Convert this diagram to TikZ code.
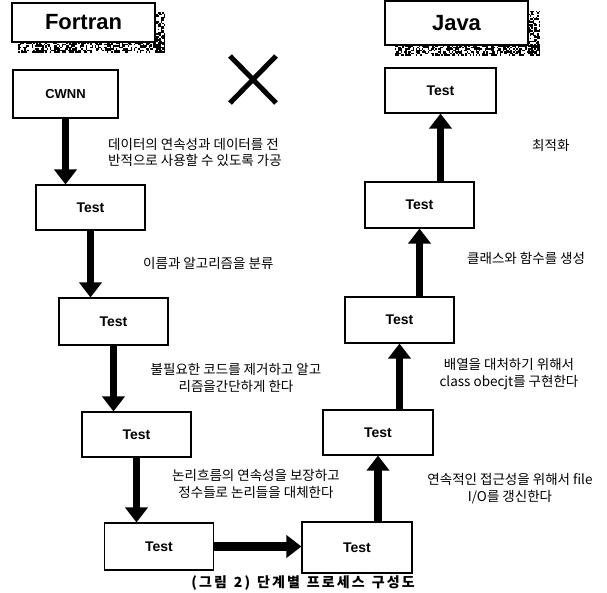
\documentclass[tikz,border=0pt]{standalone}
\usepackage{fontspec}
\setmainfont{Liberation Sans}
\newfontfamily\kr{Noto Sans CJK KR}
\usetikzlibrary{arrows.meta}

% grainy halftone strip: \grain{x0}{x1}{y0}{y1} on a 1.5pt grid
\newcommand\grain[4]{%
  \foreach \gx in {#1,...,#2}{%
    \foreach \gy in {#3,...,#4}{%
      \pgfmathrandominteger{\gr}{0}{99}%
      \ifnum\gr<52 \fill (\gx*1.5,\gy*1.5) rectangle ++(1.5,1.5);\fi
    }%
  }%
}

\begin{document}
\begin{tikzpicture}[x=1pt,y=-1pt,
  box/.style={draw, line width=1.1pt, fill=white, minimum width=109pt,
    minimum height=45pt, inner sep=0pt, font=\bfseries\fontsize{14}{16}\selectfont},
  titlebox/.style={box, minimum width=143pt, font=\bfseries\fontsize{22}{24}\selectfont},
  flow/.style={line width=7.5pt, -{Triangle[width=22pt,length=15pt]}},
  note/.style={font=\kr\fontsize{13.5}{17}\selectfont, align=center, inner sep=0pt},
]
\useasboundingbox (0,0) rectangle (607,592);
\pgfmathsetseed{4217}

% grainy drop shadows behind the two language headers
\grain{103}{109}{8}{34}
\grain{12}{109}{28}{34}
\grain{352}{359}{7}{36}
\grain{263}{359}{30}{36}

% language headers
\node[titlebox, minimum height=39pt] (fortran) at (83.5,22.5) {Fortran};
\node[titlebox, minimum height=44pt] (java) at (456.5,23) {Java};

% crossed-out mark
\draw[line width=5pt] (230,56) coordinate (xa) -- (276,103) coordinate (xb);
\draw[line width=5pt] (276,56) coordinate (xc) -- (230,103) coordinate (xd);

% Fortran side
\node[box, minimum width=105pt, minimum height=48pt, font=\bfseries\fontsize{13}{15}\selectfont] (cwnn) at (65.5,94) {CWNN};
\node[box] (t1) at (90.5,207.5) {Test};
\node[box, minimum height=47pt] (t2) at (113.5,321.5) {Test};
\node[box] (t3) at (136.5,434.5) {Test};
\node[box, minimum height=47pt] (t4) at (159,546.5) {Test};

% Java side
\node[box, minimum width=110pt, minimum height=51pt] (t5) at (357,547.5) {Test};
\node[box, minimum width=110pt] (t6) at (378,432.5) {Test};
\node[box, minimum height=46pt] (t7) at (399.5,320) {Test};
\node[box, minimum height=46pt] (t8) at (419.5,205) {Test};
\node[box, minimum width=111pt] (t9) at (440.5,90.5) {Test};

% flow arrows
\draw[flow] (cwnn.south) -- (cwnn.south |- t1.north);
\draw[flow] (t1.south) -- (t1.south |- t2.north);
\draw[flow] (t2.south) -- (t2.south |- t3.north);
\draw[flow] (t3.south) -- (t3.south |- t4.north);
\draw[flow, line width=9pt] (t4.east) -- (t4.east -| t5.west);
\draw[flow] (t6.south |- t5.north) -- (t6.south);
\draw[flow] (t7.south |- t6.north) -- (t7.south);
\draw[flow] (t8.south |- t7.north) -- (t8.south);
\draw[flow] (t9.south |- t8.north) -- (t9.south);

% step descriptions
\node[note, anchor=west, align=left, font=\kr\fontsize{13.5}{15.5}\selectfont] (n1) at (108,152.5)
  {데이터의 연속성과 데이터를 전\\반적으로 사용할 수 있도록 가공};
\node[note, anchor=west] (n2) at (143,263) {이름과 알고리즘을 분류};
\node[note] (n3) at (236,377.5) {불필요한 코드를 제거하고 알고\\리즘을간단하게 한다};
\node[note] (n4) at (256,484) {논리흐름의 연속성을 보장하고\\정수들로 논리들을 대체한다};
\node[note] (n5) at (510,488.5) {연속적인 접근성을 위해서 file\\I/O를 갱신한다};
\node[note] (n6) at (509,374) {배열을 대처하기 위해서\\class obecjt를 구현한다};
\node[note, anchor=west] (n7) at (467,258) {클래스와 함수를 생성};
\node[note, anchor=west] (n8) at (532,145) {최적화};

% caption
\node[inner sep=0pt, font=\kr\bfseries\fontsize{14}{16}\selectfont\addfontfeature{LetterSpace=15}] (cap) at (303,583)
  {(그림\hspace{7pt}2)\hspace{7pt}단계별\hspace{7pt}프로세스\hspace{7pt}구성도};
\end{tikzpicture}
\end{document}
